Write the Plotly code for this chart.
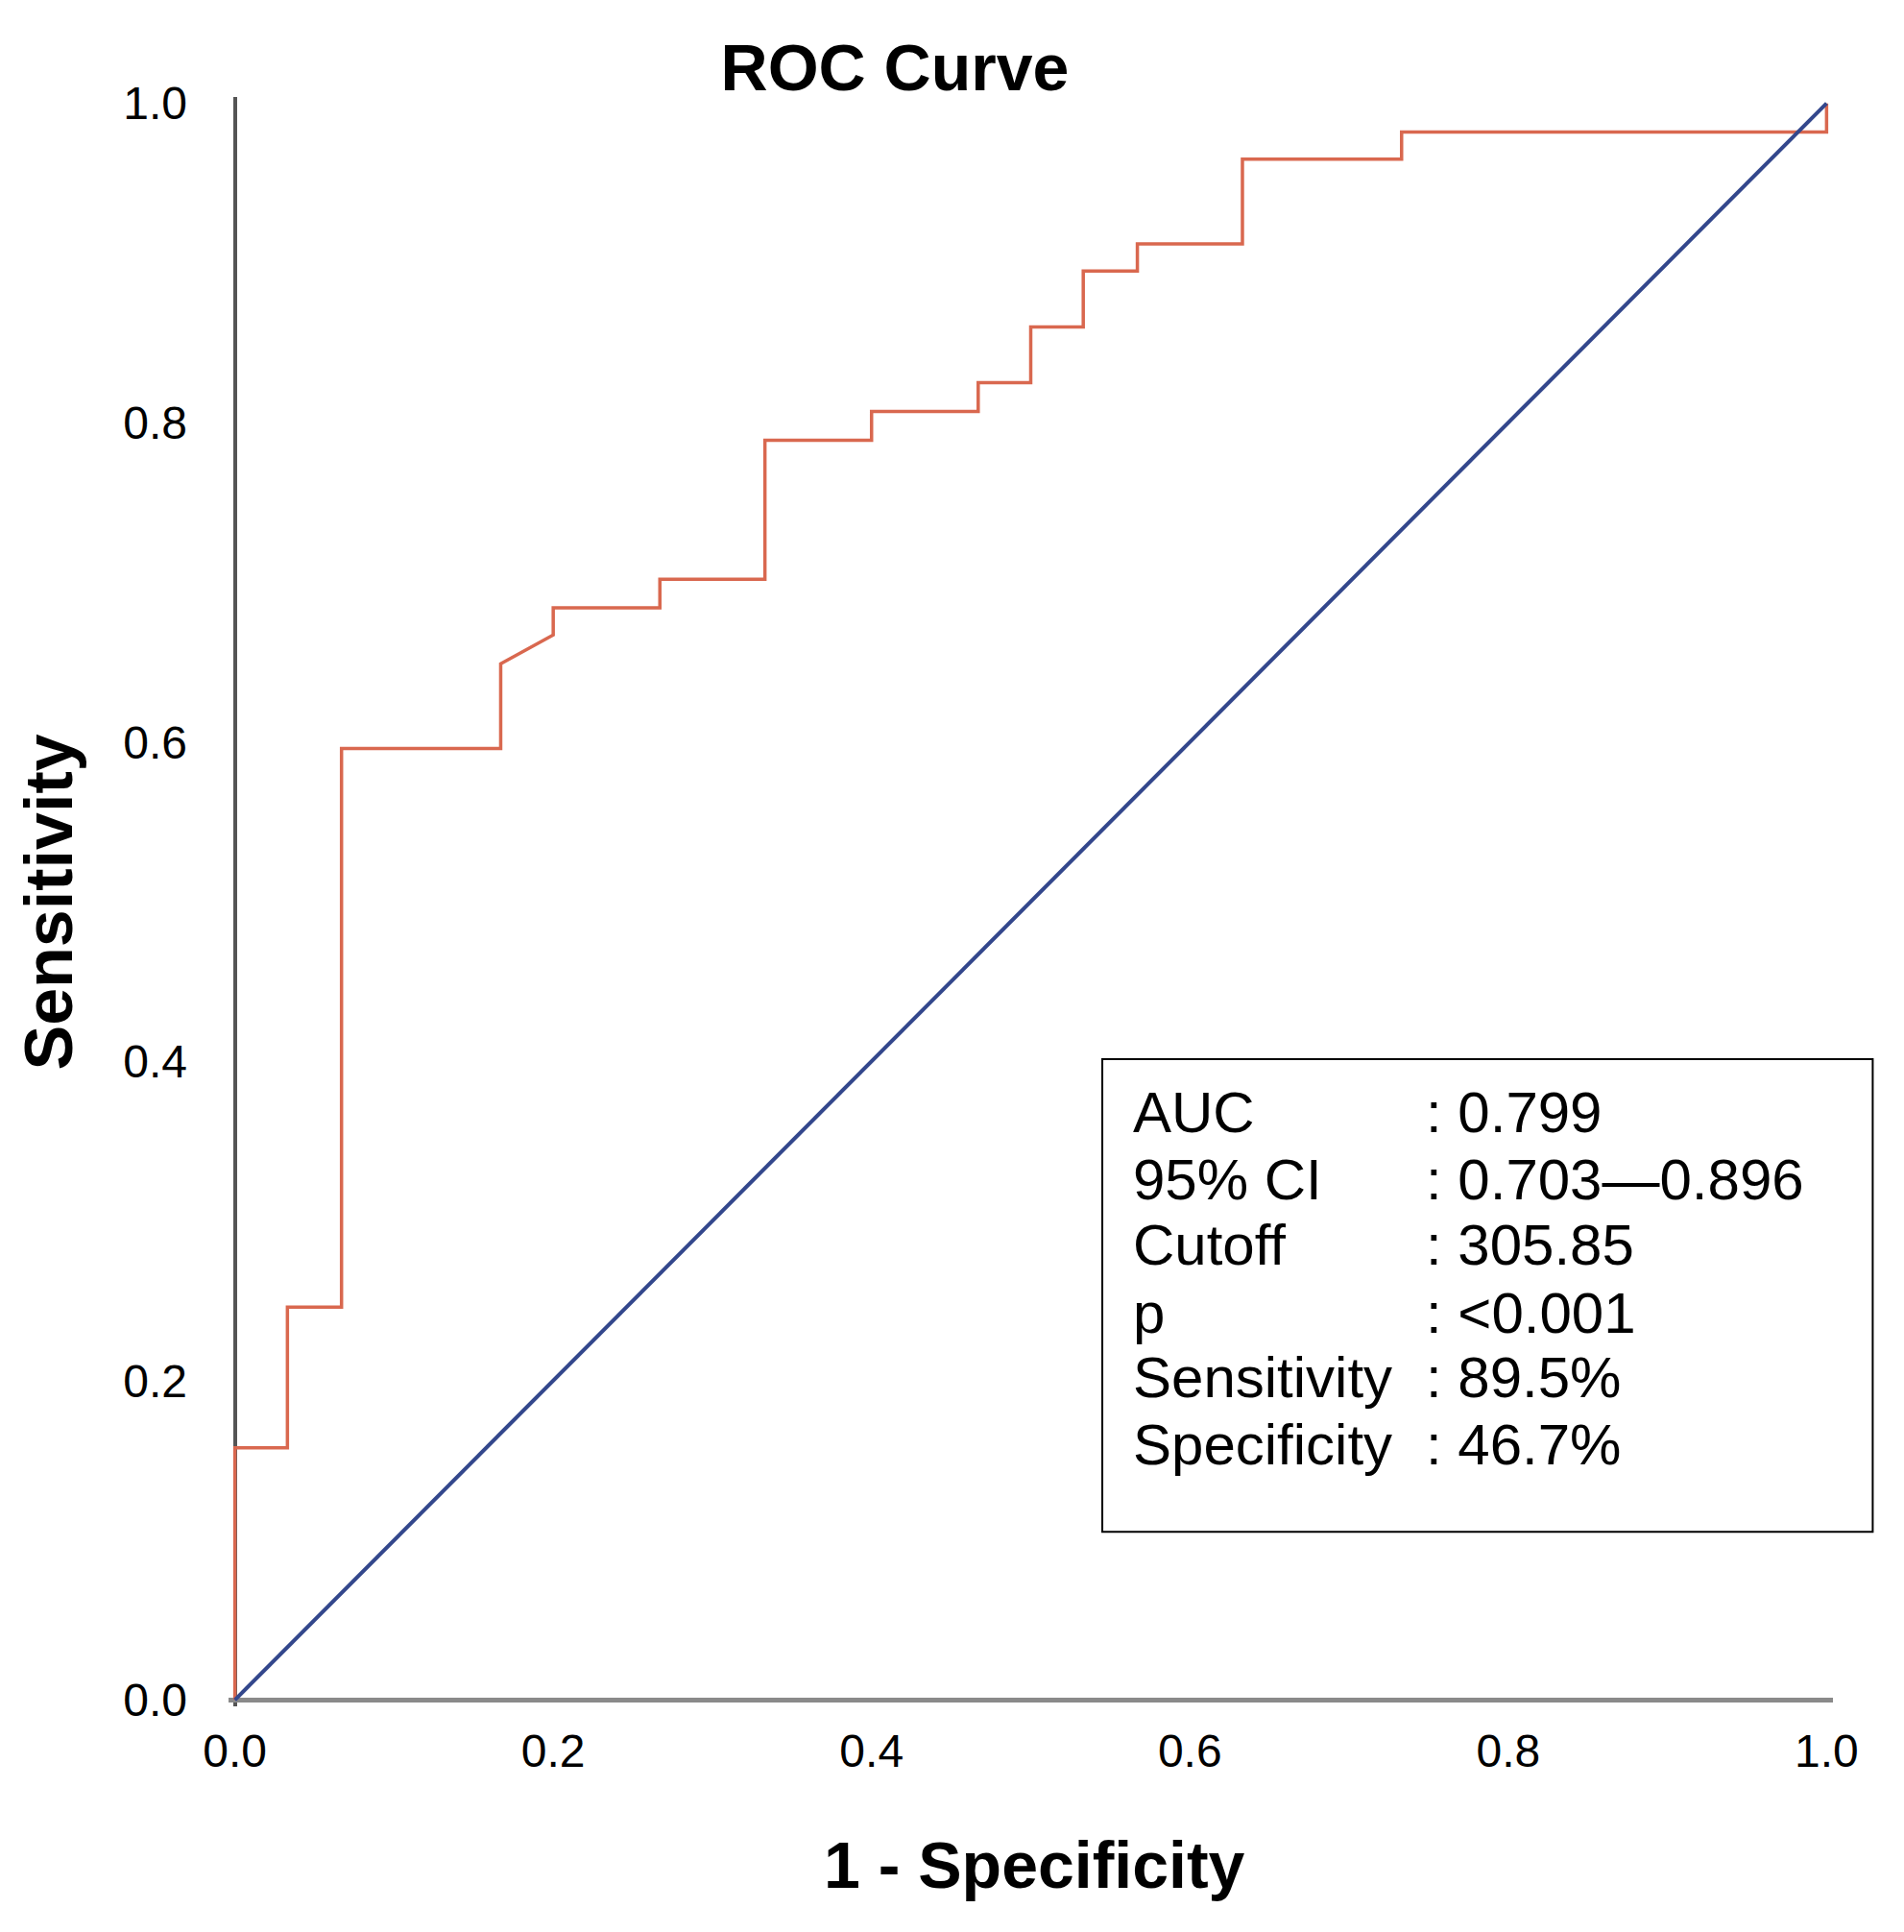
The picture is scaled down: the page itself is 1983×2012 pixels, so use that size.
import plotly.graph_objects as go

# ROC curve (1 - specificity, sensitivity)
fpr = [0.0, 0.0, 0.033, 0.033, 0.067, 0.067, 0.167, 0.167, 0.200, 0.200, 0.267, 0.267,
       0.333, 0.333, 0.400, 0.400, 0.467, 0.467, 0.500, 0.500, 0.533, 0.533, 0.567, 0.567,
       0.633, 0.633, 0.733, 0.733, 1.0, 1.0]
tpr = [0.0, 0.158, 0.158, 0.246, 0.246, 0.596, 0.596, 0.649, 0.667, 0.684, 0.684, 0.702,
       0.702, 0.789, 0.789, 0.807, 0.807, 0.825, 0.825, 0.860, 0.860, 0.895, 0.895, 0.912,
       0.912, 0.965, 0.965, 0.982, 0.982, 1.0]

ref_x = [0.0, 1.0]
ref_y = [0.0, 1.0]

tick_vals = [0.0, 0.2, 0.4, 0.6, 0.8, 1.0]
tick_text = ['0.0', '0.2', '0.4', '0.6', '0.8', '1.0']

stat_names = ['AUC', '95% CI', 'Cutoff', 'p', 'Sensitivity', 'Specificity']
stat_values = [': 0.799', ': 0.703\u20140.896', ': 305.85', ': <0.001', ': 89.5%', ': 46.7%']

# page body has an 8px margin, so work in page pixels and shift by OFF
OFF = 8
W, H = 1983 - OFF, 2012 - OFF
pad = 0.004
L, R, T, B = 238.4 - OFF, 1908.6 - OFF, 101.4 - OFF, 1776.6 - OFF
FONT = 'Liberation Sans, Arial, sans-serif'


def px_x(p):
    return (p - OFF - L) / (R - L)


def px_y(p):
    return (B - (p - OFF)) / (B - T)


fig = go.Figure()
fig.add_trace(go.Scatter(x=fpr, y=tpr, mode='lines',
                         line=dict(color='#D9684F', width=3.5), showlegend=False))
fig.add_trace(go.Scatter(x=ref_x, y=ref_y, mode='lines',
                         line=dict(color='#33478C', width=4), showlegend=False))

# stats box
fig.add_shape(type='rect', xref='paper', yref='paper',
              x0=px_x(1148), x1=px_x(1950), y0=px_y(1595), y1=px_y(1103),
              line=dict(color='black', width=2), fillcolor='rgba(0,0,0,0)')

row_y = [1158, 1228, 1296, 1367, 1434, 1504]
for name, val, yy in zip(stat_names, stat_values, row_y):
    fig.add_annotation(text=name, xref='paper', yref='paper', x=px_x(1178), y=px_y(yy),
                       xanchor='left', yanchor='middle', showarrow=False,
                       font=dict(family=FONT, size=60, color='black'))
    fig.add_annotation(text=val, xref='paper', yref='paper', x=px_x(1483), y=px_y(yy),
                       xanchor='left', yanchor='middle', showarrow=False,
                       font=dict(family=FONT, size=60, color='black'))

# axis titles
fig.add_annotation(text='<b>1 - Specificity</b>', xref='paper', yref='paper',
                   x=px_x(1077), y=px_y(1942), xanchor='center', yanchor='middle',
                   showarrow=False, font=dict(family=FONT, size=68, color='black'))
fig.add_annotation(text='<b>Sensitivity</b>', xref='paper', yref='paper',
                   x=px_x(51), y=px_y(940), xanchor='center', yanchor='middle',
                   textangle=-90, showarrow=False, font=dict(family=FONT, size=70, color='black'))

fig.update_layout(
    width=W, height=H,
    margin=dict(l=L, r=W - R, t=T, b=H - B, autoexpand=False),
    paper_bgcolor='white', plot_bgcolor='white',
    title=dict(text='<b>ROC Curve</b>', x=px_x(932), xref='paper', xanchor='center',
               y=1 - (70 - OFF) / H, yref='container', yanchor='middle',
               font=dict(family=FONT, size=68, color='black')),
    font=dict(family=FONT, color='black'),
)
fig.update_xaxes(range=[-pad, 1 + pad], tickvals=tick_vals, ticktext=tick_text,
                 showgrid=False, showline=False, zeroline=True,
                 zerolinecolor='#555555', zerolinewidth=4,
                 ticks='', ticklabelstandoff=14,
                 tickfont=dict(family=FONT, size=48, color='black'))
fig.update_yaxes(range=[-pad, 1 + pad], tickvals=tick_vals, ticktext=tick_text,
                 showgrid=False, showline=False, zeroline=True,
                 zerolinecolor='#8A8A8A', zerolinewidth=5,
                 ticks='', ticklabelstandoff=42,
                 tickfont=dict(family=FONT, size=48, color='black'))

fig.write_html('out.html')
